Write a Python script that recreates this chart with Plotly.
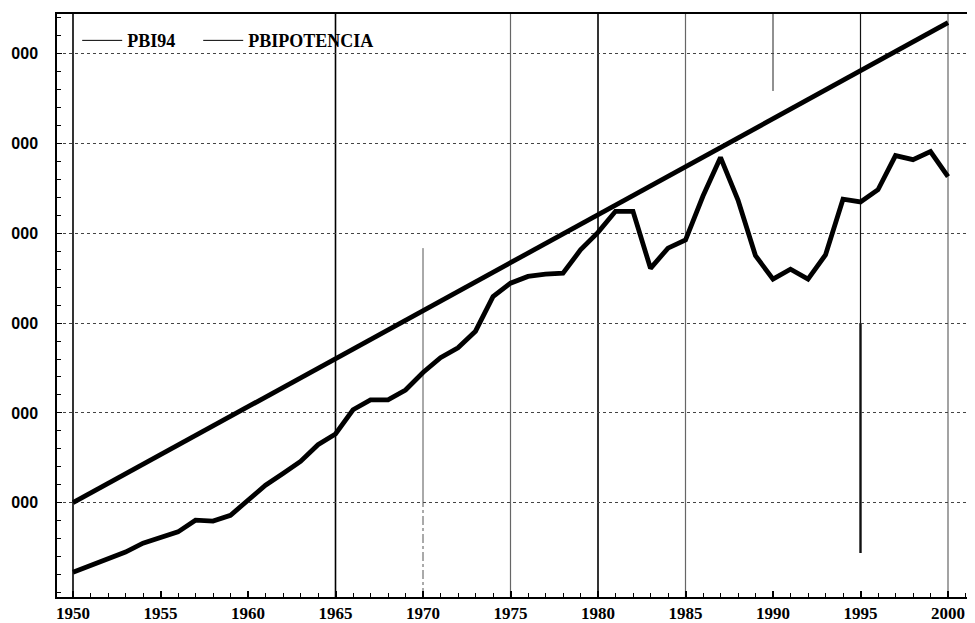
import plotly.graph_objects as go

# ---- data ----
years = list(range(1950, 2001))
pbi94 = [24500, 26000, 27300, 29000, 31000, 32300, 33500, 36100, 35900, 37200,
         40600, 43900, 46500, 49200, 52900, 55300, 60700, 62900, 62900, 65100,
         69000, 72300, 74500, 78200, 85900, 88900, 90400, 90900, 91100, 96300,
         100200, 104900, 104900, 92200, 96700, 98500, 108300, 116900, 107400, 95000,
         89800, 92000, 89800, 95200, 107600, 107000, 109700, 117300, 116400, 118200,
         112600]
pot_years = [1950, 2000]
pbipotencia = [40000, 146900]

y_tickvals = [40000, 60000, 80000, 100000, 120000, 140000]
y_ticktext = ["000"] * 6
x_tickvals = list(range(1950, 2001, 5))

# reference vertical lines
full_black = [1950, 1965, 1980]
full_gray = [1975, 1985, 2000]
# (year, y_from, y_to, color, width, dash); None = axis limit
partial_lines = [(1970, 40000, 96700, "#555555", 1, "solid"),
                 (1970, None, 40000, "#555555", 1, "dashdot"),
                 (1990, 131700, None, "#222222", 1, "solid"),
                 (1995, 80000, None, "#111111", 1.2, "solid"),
                 (1995, 28800, 80000, "#111111", 2.4, "solid")]

Y0, Y1 = 19000, 148840

fig = go.Figure()
fig.add_trace(go.Scatter(x=pot_years, y=pbipotencia, mode="lines",
                         line=dict(color="black", width=4.8), showlegend=False))
fig.add_trace(go.Scatter(x=years, y=pbi94, mode="lines",
                         line=dict(color="black", width=4.8), showlegend=False))
# thin legend entries
fig.add_trace(go.Scatter(x=[None], y=[None], mode="lines",
                         name="PBI94" + "\u00a0" * 4,
                         line=dict(color="black", width=1)))
fig.add_trace(go.Scatter(x=[None], y=[None], mode="lines", name="PBIPOTENCIA",
                         line=dict(color="black", width=1)))

shapes = []
for yr in full_black:
    shapes.append(dict(type="line", xref="x", yref="paper", x0=yr, x1=yr, y0=0, y1=1,
                       line=dict(color="black", width=1.6), layer="below"))
for yr in full_gray:
    shapes.append(dict(type="line", xref="x", yref="paper", x0=yr, x1=yr, y0=0, y1=1,
                       line=dict(color="#666666", width=1.2), layer="below"))
for yr, ya, yb, col, w, dash in partial_lines:
    y0 = Y0 if ya is None else ya
    y1 = Y1 if yb is None else yb
    shapes.append(dict(type="line", xref="x", yref="y", x0=yr, x1=yr,
                       y0=y0, y1=y1, line=dict(color=col, width=w, dash=dash),
                       layer="below"))

fig.update_layout(
    width=967, height=615,
    margin=dict(l=49, r=0, t=6, b=26, autoexpand=False),
    paper_bgcolor="white", plot_bgcolor="white",
    shapes=shapes,
    legend=dict(orientation="h", x=0.022, y=0.986, xanchor="left", yanchor="top",
                bgcolor="rgba(0,0,0,0)", itemwidth=40,
                font=dict(family="Liberation Serif", size=18, color="black",
                          weight="bold")),
    xaxis=dict(range=[1949.086, 2001.543], tickvals=x_tickvals, automargin=False,
               ticks="inside", ticklen=6, tickwidth=1.5, tickcolor="black",
               minor=dict(dtick=1, tick0=1950, ticks="inside", ticklen=4,
                          tickcolor="black", tickwidth=1.2),
               showgrid=False, zeroline=False,
               showline=True, linecolor="black", linewidth=2, mirror=True,
               tickfont=dict(family="Liberation Serif", size=17, color="black",
                             weight="bold")),
    yaxis=dict(range=[Y0, Y1], tickvals=y_tickvals, ticktext=y_ticktext,
               automargin=False,
               ticks="inside", ticklen=5, tickcolor="black",
               minor=dict(dtick=4000, tick0=0, ticks="inside", ticklen=4,
                          tickcolor="black", showgrid=False),
               showgrid=True, gridcolor="#444444", gridwidth=1, griddash="dot",
               zeroline=False, showline=True, linecolor="black", linewidth=1.5,
               ticklabelstandoff=14,
               tickfont=dict(family="Liberation Sans", size=16, color="black",
                             weight="bold")),
)

fig.write_html("out.html")
